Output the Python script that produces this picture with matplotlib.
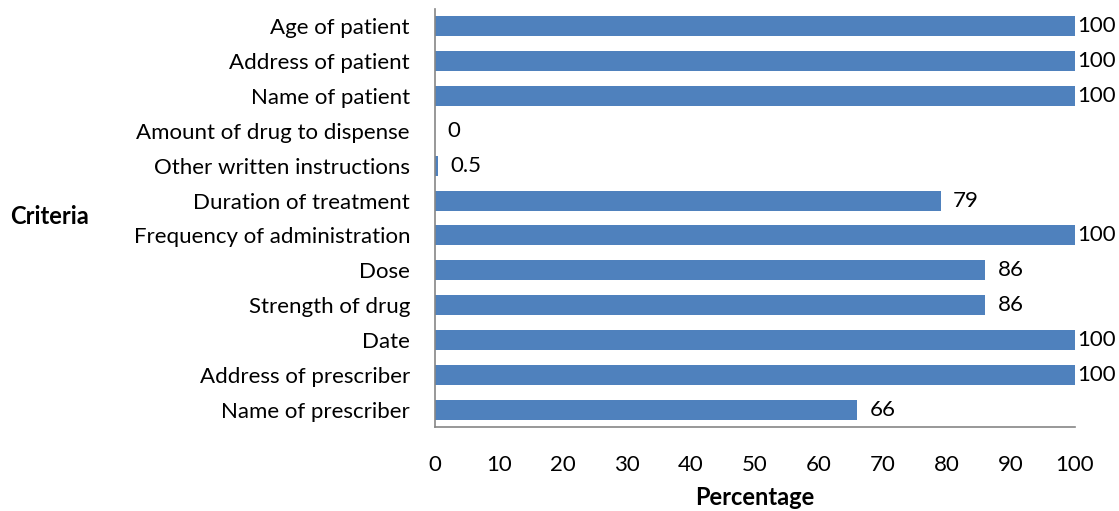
import matplotlib
matplotlib.use('Agg')
import matplotlib.pyplot as plt

# categories listed bottom to top
criteria = ['Name of prescriber', 'Address of prescriber', 'Date', 'Strength of drug',
            'Dose', 'Frequency of administration', 'Duration of treatment',
            'Other written instructions', 'Amount of drug to dispense',
            'Name of patient', 'Address of patient', 'Age of patient']
percent = [66, 100, 100, 86, 86, 100, 79, 0.5, 0, 100, 100, 100]
labels = ['66', '100', '100', '86', '86', '100', '79', '0.5', '0', '100', '100', '100']
xticks = list(range(0, 101, 10))

plt.rcParams['font.family'] = ['Lato', 'DejaVu Sans']

fig = plt.figure(figsize=(11.19, 5.11), dpi=100)
ax = fig.add_axes([435 / 1119, 1 - 427 / 511, 640 / 1119, 418 / 511])

pos = range(len(criteria))
ax.barh(pos, percent, height=0.575, color='#4F81BD')
ax.set_ylim(-0.5, len(criteria) - 0.5)
ax.set_xlim(0, 100)

for y, v, t in zip(pos, percent, labels):
    off = 1.5 if v >= 100 else 9
    ax.annotate(t, (v, y), xytext=(off, 0), textcoords='offset points',
                va='center', ha='left', fontsize=16, annotation_clip=False)

ax.set_yticks(list(pos))
ax.set_yticklabels(criteria, fontsize=16)
ax.set_xticks(xticks)
ax.set_xticklabels([str(x) for x in xticks], fontsize=16)
ax.tick_params(axis='y', length=0, pad=18)
ax.tick_params(axis='x', length=0, pad=20)

for s in ['top', 'right']:
    ax.spines[s].set_visible(False)
for s in ['left', 'bottom']:
    ax.spines[s].set_color('#868686')
    ax.spines[s].set_linewidth(1.2)

ax.set_xlabel('Percentage', fontsize=17, fontweight='bold', labelpad=8)
fig.text(10 / 1119, 1 - 216 / 511, 'Criteria', fontsize=17, fontweight='bold',
         ha='left', va='center')

fig.savefig('out.png', dpi=100)
